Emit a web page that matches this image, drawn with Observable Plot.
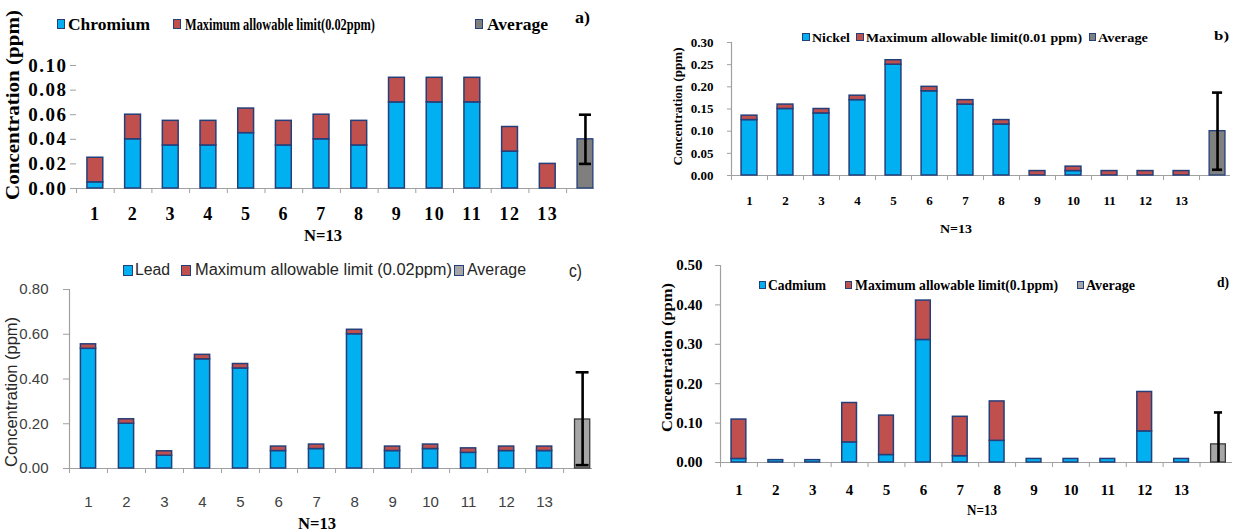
<!DOCTYPE html>
<html>
<head>
<meta charset="utf-8">
<script src="https://cdn.jsdelivr.net/npm/d3@7"></script>
<script src="https://cdn.jsdelivr.net/npm/@observablehq/plot@0.6"></script>
<style>
  html, body { margin: 0; padding: 0; background: #fff; }
  #fig { position: relative; width: 1247px; height: 531px; overflow: hidden; background: #fff; }
  .panel { position: absolute; }
  .lbl { position: absolute; white-space: nowrap; line-height: 1; transform-origin: 0 50%; }
  .sq { position: absolute; box-sizing: border-box; border: 1px solid #243f7a; }
  .serif { font-family: "Liberation Serif", "Times New Roman", serif; font-weight: bold; color: #000; }
  .sans { font-family: "Liberation Sans", Arial, sans-serif; color: #262626; }
</style>
</head>
<body>
<div id="fig"></div>
<script>
// Sampling sites
const sites = ["1", "2", "3", "4", "5", "6", "7", "8", "9", "10", "11", "12", "13"];

// a) Chromium (ppm) and the allowable-limit segment stacked on top
const chromium = [0.005, 0.04, 0.035, 0.035, 0.045, 0.035, 0.04, 0.035, 0.07, 0.07, 0.07, 0.03, 0];
const chromiumLimit = [0.02, 0.02, 0.02, 0.02, 0.02, 0.02, 0.02, 0.02, 0.02, 0.02, 0.02, 0.02, 0.02];
const chromiumAvg = { mean: 0.04, lo: 0.02, hi: 0.06 };
const chromiumTicks = [0, 0.02, 0.04, 0.06, 0.08, 0.10];

// b) Nickel
const nickel = [0.125, 0.15, 0.14, 0.17, 0.25, 0.19, 0.16, 0.115, 0, 0.01, 0, 0, 0];
const nickelLimit = [0.01, 0.01, 0.01, 0.01, 0.01, 0.01, 0.01, 0.01, 0.01, 0.01, 0.01, 0.01, 0.01];
const nickelAvg = { mean: 0.10, lo: 0.013, hi: 0.187 };
const nickelTicks = [0, 0.05, 0.10, 0.15, 0.20, 0.25, 0.30];

// c) Lead
const lead = [0.535, 0.2, 0.057, 0.488, 0.447, 0.078, 0.087, 0.6, 0.078, 0.087, 0.07, 0.078, 0.078];
const leadLimit = [0.02, 0.02, 0.02, 0.02, 0.02, 0.02, 0.02, 0.02, 0.02, 0.02, 0.02, 0.02, 0.02];
const leadAvg = { mean: 0.219, lo: 0.015, hi: 0.43 };
const leadTicks = [0, 0.2, 0.4, 0.6, 0.8];

// d) Cadmium (limit segment only where it is drawn)
const cadmium = [0.009, 0.006, 0.006, 0.051, 0.019, 0.311, 0.016, 0.055, 0.009, 0.009, 0.009, 0.079, 0.009];
const cadmiumLimit = [0.1, 0, 0, 0.1, 0.1, 0.1, 0.1, 0.1, 0, 0, 0, 0.1, 0];
const cadmiumAvg = { mean: 0.046, lo: 0, hi: 0.127 };
const cadmiumTicks = [0, 0.1, 0.2, 0.3, 0.4, 0.5];

const BLUE = "#00b0f0", RED = "#c0504d", EDGE = "#243f7a", AXIS = "#a0a0a0";

const fig = document.getElementById("fig");

function panel(cfg) {
  const rows = sites.map((s, k) => ({ site: s, pos: k + 1, metal: cfg.metal[k], limit: cfg.limit[k] }));
  const avgPos = sites.length + 1;
  const avg = [{ pos: avgPos, ...cfg.avg }];
  const bounds = d3.range(0.5, sites.length + 1, 1);
  const hw = cfg.barHalf, cw = cfg.capHalf;
  const caps = cfg.lowCap ? [cfg.avg.lo, cfg.avg.hi] : [cfg.avg.hi];
  const marks = [
    Plot.ruleY([0], { stroke: AXIS, strokeWidth: 1.2 }),
    Plot.axisX({ ticks: bounds, tickSize: 5, tickFormat: () => "", stroke: AXIS, label: null }),
    Plot.axisY({
      ticks: cfg.ticks, tickSize: cfg.tickSize, tickPadding: cfg.tickPadding,
      tickFormat: d3.format(".2f"), label: null, stroke: AXIS,
      fill: cfg.tickColor, fontSize: cfg.yFont, fontWeight: cfg.weight, fontFamily: cfg.family
    }),
    Plot.rectY(rows.filter(d => d.metal > 0), {
      x1: d => d.pos - hw, x2: d => d.pos + hw, y1: 0, y2: "metal",
      fill: BLUE, stroke: EDGE, strokeWidth: 1.5
    }),
    Plot.rectY(rows.filter(d => d.limit > 0), {
      x1: d => d.pos - hw, x2: d => d.pos + hw, y1: "metal", y2: d => d.metal + d.limit,
      fill: RED, stroke: EDGE, strokeWidth: 1.5
    }),
    Plot.rectY(avg, {
      x1: d => d.pos - hw, x2: d => d.pos + hw, y1: 0, y2: "mean",
      fill: cfg.avgFill, stroke: cfg.avgEdge, strokeWidth: 1.3
    }),
    Plot.ruleX(avg, { x: "pos", y1: "lo", y2: "hi", stroke: "#000", strokeWidth: 2.6 }),
    Plot.ruleY(caps, { y: d => d, x1: avgPos - cw, x2: avgPos + cw, stroke: "#000", strokeWidth: 2.6 }),
    Plot.text(rows, {
      x: "pos", text: "site", frameAnchor: "bottom", dy: cfg.labelDy, lineAnchor: "middle",
      fontSize: cfg.xFont, fontWeight: cfg.weight, fontFamily: cfg.family, fill: cfg.tickColor
    })
  ];
  if (cfg.yLine) marks.splice(1, 0, Plot.ruleX([bounds[0]], { stroke: AXIS, strokeWidth: 1.2 }));
  const chart = Plot.plot({
    width: cfg.width, height: cfg.height,
    marginLeft: cfg.ml, marginRight: cfg.mr, marginTop: cfg.mt, marginBottom: cfg.mb,
    x: { type: "linear", domain: [0.5, cfg.xMax] },
    y: { domain: [0, cfg.yMax] },
    style: { fontFamily: cfg.family, fontSize: cfg.yFont + "px", fontWeight: cfg.weight, background: "transparent", overflow: "visible", letterSpacing: cfg.spacing || "normal" },
    marks
  });
  const wrap = document.createElement("div");
  wrap.className = "panel";
  wrap.style.left = cfg.left + "px";
  wrap.style.top = cfg.top + "px";
  wrap.appendChild(chart);
  fig.appendChild(wrap);
}

// Text squeezed or stretched horizontally to fill a given span
function label(text, x0, x1, yc, cls, size) {
  const el = document.createElement("div");
  el.className = "lbl " + cls;
  el.textContent = text;
  el.style.fontSize = size + "px";
  el.style.left = x0 + "px";
  el.style.top = (yc - size / 2) + "px";
  fig.appendChild(el);
  const w = el.getBoundingClientRect().width;
  el.style.transform = `scaleX(${(x1 - x0) / w})`;
}

function centered(text, xc, yc, len, cls, size) {
  label(text, xc - len / 2, xc + len / 2, yc, cls, size);
}

// Vertical axis title, rotated, fitted to a length
function vtitle(text, xc, yc, len, cls, size) {
  const el = document.createElement("div");
  el.className = "lbl " + cls;
  el.textContent = text;
  el.style.fontSize = size + "px";
  fig.appendChild(el);
  const w = el.getBoundingClientRect().width;
  el.style.left = (xc - w / 2) + "px";
  el.style.top = (yc - size / 2) + "px";
  el.style.transformOrigin = "50% 50%";
  el.style.transform = `rotate(-90deg) scaleX(${len / w})`;
}

function square(x0, x1, yc, h, fill) {
  const el = document.createElement("div");
  el.className = "sq";
  el.style.left = x0 + "px";
  el.style.width = (x1 - x0) + "px";
  el.style.top = (yc - h / 2) + "px";
  el.style.height = h + "px";
  el.style.background = fill;
  fig.appendChild(el);
}

const SERIF = "Liberation Serif, Times New Roman, serif";
const SANS = "Liberation Sans, Arial, sans-serif";

// a) Chromium
panel({
  metal: chromium, limit: chromiumLimit, avg: chromiumAvg, ticks: chromiumTicks,
  left: 0, top: 0, width: 620, height: 250, ml: 76, mr: 26, mt: 65, mb: 62,
  xMax: 14.24, yMax: 0.10, tickSize: 6, tickPadding: 3, yFont: 19, xFont: 18, spacing: "1.5px",
  barHalf: 0.21, capHalf: 0.16, labelDy: 26, avgFill: "#7f7f7f", avgEdge: EDGE, lowCap: true,
  family: SERIF, weight: "bold", tickColor: "#000", yLine: false
});
// b) Nickel
panel({
  metal: nickel, limit: nickelLimit, avg: nickelAvg, ticks: nickelTicks,
  left: 620, top: 0, width: 627, height: 250, ml: 111, mr: 17, mt: 42, mb: 75,
  xMax: 14.36, yMax: 0.30, tickSize: 4, tickPadding: 14, yFont: 13, xFont: 13,
  barHalf: 0.22, capHalf: 0.14, labelDy: 25, avgFill: "#808080", avgEdge: EDGE, lowCap: true,
  family: SERIF, weight: "bold", tickColor: "#000", yLine: true
});
// c) Lead
panel({
  metal: lead, limit: leadLimit, avg: leadAvg, ticks: leadTicks,
  left: 0, top: 250, width: 620, height: 281, ml: 69, mr: 28, mt: 39, mb: 63,
  xMax: 14.26, yMax: 0.8, tickSize: 6, tickPadding: 15, yFont: 15, xFont: 15,
  barHalf: 0.2, capHalf: 0.17, labelDy: 34, avgFill: "#a6a6a6", avgEdge: "#3a3a3a", lowCap: true,
  family: SANS, weight: "normal", tickColor: "#404040", yLine: true
});
// d) Cadmium
panel({
  metal: cadmium, limit: cadmiumLimit, avg: cadmiumAvg, ticks: cadmiumTicks,
  left: 620, top: 250, width: 627, height: 281, ml: 100, mr: 15, mt: 15, mb: 69,
  xMax: 14.38, yMax: 0.5, tickSize: 5, tickPadding: 13, yFont: 15, xFont: 15,
  barHalf: 0.2, capHalf: 0.11, labelDy: 28, avgFill: "#a6a6a6", avgEdge: "#3a3a3a", lowCap: false,
  family: SERIF, weight: "bold", tickColor: "#000", yLine: true
});

// Legends
square(57, 65, 24, 10, BLUE);  label("Chromium", 68, 150, 24, "serif", 17);
square(173, 181, 24, 10, RED); label("Maximum allowable limit(0.02ppm)", 185, 375, 24, "serif", 17);
square(475, 483, 24, 10, "#7f7f7f"); label("Average", 487, 548, 24, "serif", 17);
label("a)", 575, 590, 18, "serif", 16);

square(802, 810, 37, 8, BLUE);  label("Nickel", 812, 850, 37, "serif", 13);
square(856, 864, 37, 8, RED);   label("Maximum allowable limit(0.01 ppm)", 866, 1082, 37, "serif", 13);
square(1089, 1096, 37, 8, "#808080"); label("Average", 1098, 1148, 37, "serif", 13);
label("b)", 1214, 1229, 35, "serif", 13);

square(123, 133, 270, 11, BLUE); label("Lead", 135, 170, 270, "sans", 16);
square(181, 191, 270, 11, RED);  label("Maximum allowable limit (0.02ppm)", 195, 452, 270, "sans", 16);
square(454, 464, 270, 11, "#a6a6a6"); label("Average", 467, 526, 270, "sans", 16);
label("c)", 569, 582, 271, "sans", 18);

square(759, 766, 285, 8, BLUE); label("Cadmium", 768, 826, 285, "serif", 15);
square(845, 852, 285, 8, RED);  label("Maximum allowable limit(0.1ppm)", 855, 1058, 285, "serif", 15);
square(1077, 1084, 285, 8, "#a6a6a6"); label("Average", 1086, 1135, 285, "serif", 15);
label("d)", 1217, 1229, 282, "serif", 15);

// Axis titles
vtitle("Concentration (ppm)", 13, 105, 190, "serif", 18);
vtitle("Concentration (ppm)", 678, 106, 118, "serif", 13);
vtitle("Concentration (ppm)", 12, 392, 150, "sans", 16);
vtitle("Concentration (ppm)", 668, 357, 149, "serif", 15);

centered("N=13", 323, 235, 38, "serif", 17);
centered("N=13", 956, 228, 32, "serif", 13);
centered("N=13", 317, 523, 38, "serif", 17);
centered("N=13", 982, 510, 30, "serif", 15);
</script>
</body>
</html>
